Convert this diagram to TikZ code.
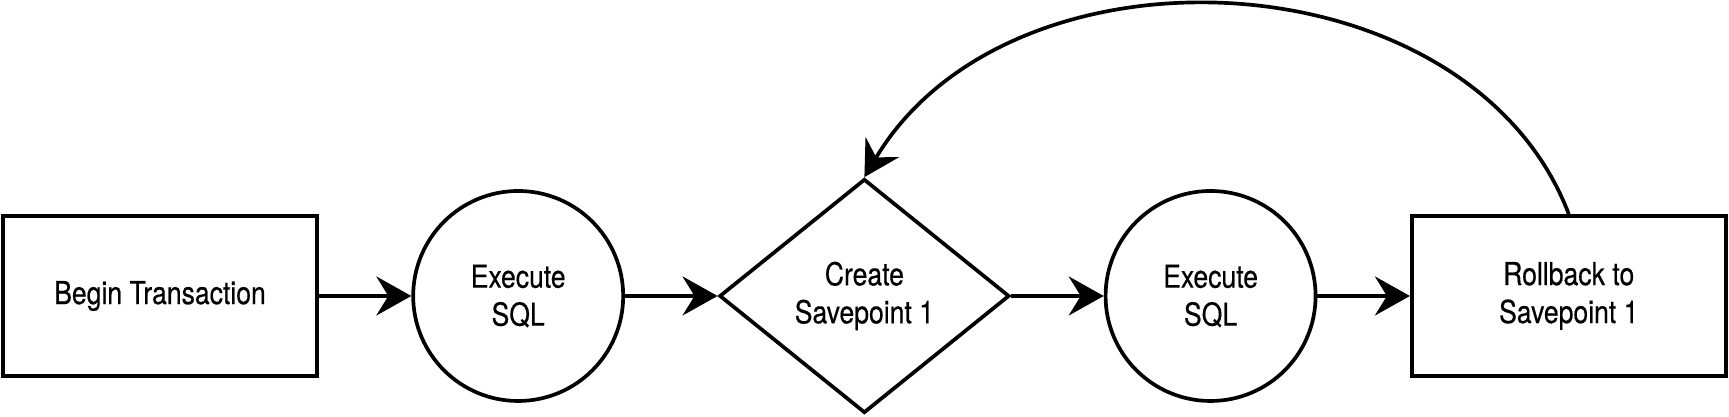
\documentclass[tikz,border=0pt]{standalone}
\usepackage{fontspec}
\setmainfont{TeX Gyre Heros}[FakeStretch=0.84,FakeBold=0.4]
\usetikzlibrary{arrows.meta,positioning,shapes.geometric}

\begin{document}
\begin{tikzpicture}[
  line width=1.05pt,
  every node/.style={font=\fontsize{9}{10.8}\selectfont, align=center},
  stepbox/.style={draw, rectangle, minimum width=3.14cm, minimum height=1.60cm},
  sqlcircle/.style={draw, circle, minimum size=2.10cm, inner sep=0pt},
  savediamond/.style={draw, diamond, minimum width=2.90cm, minimum height=2.34cm, inner sep=0pt},
  flow/.style={-{Stealth[length=3.5mm, width=3.9mm, inset=1.2mm]}}
]
\pgfmathsetmacro{\gap}{0.925}
\useasboundingbox (0,0) rectangle (17.29,4.17);

\node[stepbox] (begin) at (1.60,1.21) {Begin Transaction};
\node[sqlcircle, right=\gap cm of begin] (exec1) {Execute\\SQL};
\node[savediamond, right=\gap cm of exec1] (savepoint) {Create\\Savepoint 1};
\node[sqlcircle, right=\gap cm of savepoint] (exec2) {Execute\\SQL};
\node[stepbox, right=\gap cm of exec2] (rollback) {Rollback to\\Savepoint 1};

\draw[flow] (begin) -- (exec1);
\draw[flow] (exec1) -- (savepoint);
\draw[flow] (savepoint) -- (exec2);
\draw[flow] (exec2) -- (rollback);
%loop back to the savepoint
\draw[flow] (rollback.north) .. controls +(-0.99,2.60) and +(1.47,2.46) .. (savepoint.north);
\end{tikzpicture}
\end{document}
